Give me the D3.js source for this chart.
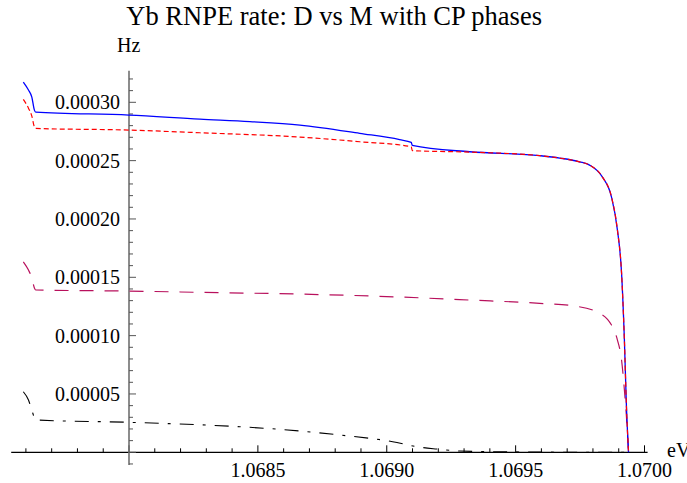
<!DOCTYPE html>
<html>
<head>
<meta charset="utf-8">
<script src="https://cdn.jsdelivr.net/npm/d3@7"></script>
<style>
  html, body { margin: 0; padding: 0; background: #fff; }
  svg { display: block; }
  text { font-family: "Liberation Serif", "Times New Roman", serif; fill: #000; }
</style>
</head>
<body>
<svg id="chart" width="687" height="483"></svg>
<script>
// ---- data (energy in eV, rate in Hz) ----
const blueX = [1.067590, 1.067610, 1.067623, 1.067633, 1.067638, 1.068000, 1.068275, 1.068469, 1.068663, 1.068895, 1.069050, 1.069095, 1.069099, 1.069322, 1.069593, 1.069671, 1.069748, 1.069787, 1.069837, 1.069872, 1.069895, 1.069911, 1.069922, 1.069930, 1.069938];
const blueY = [0.0003173, 0.0003105, 0.0003045, 0.0002933, 0.0002916, 0.0002890, 0.0002856, 0.0002835, 0.0002805, 0.0002734, 0.0002680, 0.0002656, 0.0002631, 0.0002576, 0.0002543, 0.0002522, 0.0002490, 0.0002462, 0.0002359, 0.0002188, 0.0001905, 0.0001536, 0.0000962, 0.0000388, 0.0000000];

const redX = [1.067590, 1.067610, 1.067623, 1.067633, 1.067638, 1.068000, 1.068275, 1.068663, 1.068895, 1.069095, 1.069099, 1.069322, 1.069593, 1.069671, 1.069748, 1.069787, 1.069837, 1.069872, 1.069895, 1.069911, 1.069922, 1.069930, 1.069938];
const redY = [0.0003025, 0.0002950, 0.0002882, 0.0002788, 0.0002776, 0.0002762, 0.0002739, 0.0002702, 0.0002662, 0.0002619, 0.0002586, 0.0002573, 0.0002543, 0.0002522, 0.0002490, 0.0002462, 0.0002359, 0.0002188, 0.0001905, 0.0001536, 0.0000962, 0.0000388, 0.0000000];

const crimsonX = [1.067590, 1.067610, 1.067623, 1.067633, 1.067638, 1.068000, 1.068275, 1.068663, 1.069050, 1.069322, 1.069593, 1.069721, 1.069814, 1.069872, 1.069895, 1.069911, 1.069922, 1.069930, 1.069938];
const crimsonY = [0.0001633, 0.0001562, 0.0001494, 0.0001408, 0.0001391, 0.0001382, 0.0001371, 0.0001356, 0.0001331, 0.0001305, 0.0001277, 0.0001256, 0.0001205, 0.0001091, 0.0000962, 0.0000791, 0.0000534, 0.0000302, 0.0000000];

const blackX = [1.067590, 1.067610, 1.067623, 1.067634, 1.067640, 1.068000, 1.068430, 1.068585, 1.068818, 1.069023, 1.069116, 1.069194, 1.069283, 1.069516, 1.069826, 1.069938];
const blackY = [0.0000519, 0.0000448, 0.0000362, 0.0000291, 0.0000277, 0.0000257, 0.0000219, 0.0000197, 0.0000148, 0.0000091, 0.0000048, 0.0000028, 0.0000011, 0.0000003, 0.0000000, 0.0000000];

const xMajorTicks = [1.0685, 1.0690, 1.0695, 1.0700];
const xMajorLabels = ["1.0685", "1.0690", "1.0695", "1.0700"];
const yMajorTicks = [0.00005, 0.00010, 0.00015, 0.00020, 0.00025, 0.00030];
const yMajorLabels = ["0.00005", "0.00010", "0.00015", "0.00020", "0.00025", "0.00030"];

const titleText = "Yb RNPE rate: D vs M with CP phases";
const xUnit = "eV";
const yUnit = "Hz";

// ---- scales ----
const svg = d3.select("#chart");
const x = d3.scaleLinear().domain([1.0680, 1.0700]).range([129, 644.5]);
const y = d3.scaleLinear().domain([0, 0.00030]).range([452.3, 102.3]);

const xDomainPlot = [1.067543, 1.070012];
const yDomainPlot = [-0.00001, 0.000327];

// ---- axes ----
// x axis line
svg.append("line")
  .attr("x1", x(xDomainPlot[0])).attr("x2", x(xDomainPlot[1]))
  .attr("y1", y(0)).attr("y2", y(0))
  .attr("stroke", "#000").attr("stroke-width", 1.2);

// x ticks (minor every 0.0001, major every 0.0005), drawn upward
const xMinor = d3.range(10676, 10701).map(v => v / 10000);
svg.append("g").selectAll("line").data(xMinor).join("line")
  .attr("x1", d => x(d)).attr("x2", d => x(d))
  .attr("y1", y(0))
  .attr("y2", d => y(0) - (Math.round(d * 10000) % 5 === 0 ? 7 : 4))
  .attr("stroke", "#000").attr("stroke-width", 1);

// y axis line (gray)
svg.append("line")
  .attr("x1", x(1.0680)).attr("x2", x(1.0680))
  .attr("y1", y(yDomainPlot[0]) + 1).attr("y2", y(yDomainPlot[1]))
  .attr("stroke", "#707070").attr("stroke-width", 1.6);

// y ticks (minor every 0.00001, major every 0.00005), drawn to the right
const yMinor = d3.range(-1, 33).map(v => v / 100000);
svg.append("g").selectAll("line").data(yMinor).join("line")
  .attr("x1", x(1.0680)).attr("x2", d => x(1.0680) + ((Math.round(d * 100000) % 5 === 0) ? 7 : 4))
  .attr("y1", d => y(d)).attr("y2", d => y(d))
  .attr("stroke", "#555").attr("stroke-width", 1);

// tick labels
svg.append("g").selectAll("text").data(yMajorTicks).join("text")
  .attr("x", 120).attr("y", d => y(d) + 7)
  .attr("text-anchor", "end").attr("font-size", 20)
  .text((d, i) => yMajorLabels[i]);

svg.append("g").selectAll("text").data(xMajorTicks).join("text")
  .attr("x", d => x(d)).attr("y", 477)
  .attr("text-anchor", "middle").attr("font-size", 20)
  .text((d, i) => xMajorLabels[i]);

// units & title
svg.append("text").attr("x", 117).attr("y", 52).attr("font-size", 20).text(yUnit);
svg.append("text").attr("x", 667).attr("y", 457).attr("font-size", 20).text(xUnit);
svg.append("text").attr("x", 542).attr("y", 25).attr("text-anchor", "end")
  .attr("font-size", 26.5).text(titleText);

// ---- series ----
const line = d3.line().x(d => x(d[0])).y(d => y(d[1])).curve(d3.curveMonotoneX);
const zipXY = (xs, ys) => xs.map((v, i) => [v, ys[i]]);

const series = [
  { xs: blackX, ys: blackY, color: "#000", dash: "14,9,3,9", w: 1.1 },
  { xs: crimsonX, ys: crimsonY, color: "#b8105c", dash: "14,11", w: 1.2 },
  { xs: blueX, ys: blueY, color: "#0000ff", dash: null, w: 1.3 },
  { xs: redX, ys: redY, color: "#ff0000", dash: "5,3", w: 1.2 }
];

svg.append("g").selectAll("path").data(series).join("path")
  .attr("d", s => line(zipXY(s.xs, s.ys)))
  .attr("fill", "none")
  .attr("stroke", s => s.color)
  .attr("stroke-width", s => s.w)
  .attr("stroke-dasharray", s => s.dash);
</script>
</body>
</html>
